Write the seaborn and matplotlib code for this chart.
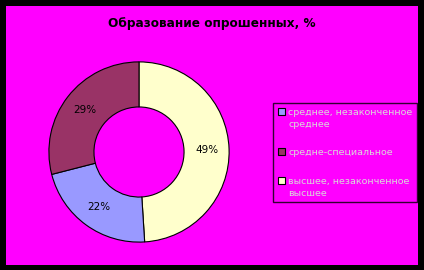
import matplotlib
matplotlib.use("Agg")
import matplotlib.pyplot as plt
from matplotlib.patches import Rectangle
from matplotlib.legend_handler import HandlerPatch
import seaborn as sns

# Survey data: education level of respondents, %
categories = ["среднее, незаконченное\nсреднее", "средне-специальное", "высшее, незаконченное\nвысшее"]
shares = [22, 29, 49]
colors = ["#9999FF", "#993366", "#FFFFCC"]
title = "Образование опрошенных, %"

sns.set_theme(style="white")
plt.rcParams["font.family"] = ["DejaVu Sans"]

W, H = 424, 270
fig = plt.figure(figsize=(W / 100, H / 100), dpi=100, facecolor="black")

# magenta chart area inside black frame
bg = fig.add_axes([6 / W, 5 / H, 412 / W, 259 / H])
bg.set_facecolor("#FF00FF")
bg.set_xticks([]); bg.set_yticks([])
for s in bg.spines.values():
    s.set_visible(False)

fig.text(212 / W, 1 - 23 / H, title, ha="center", va="center",
         fontsize=8.7, fontweight="bold", color="black")

# doughnut, drawn clockwise from 12 o'clock: high, secondary, specialised
order = [2, 0, 1]
cx, cy, r = 139, 152, 91
ax = fig.add_axes([(cx - r) / W, (H - cy - r) / H, 2 * r / W, 2 * r / H])
ax.set_facecolor("none")
wedges, texts, autotexts = ax.pie(
    [shares[i] for i in order],
    colors=[colors[i] for i in order],
    startangle=90, counterclock=False, radius=1,
    autopct=lambda p: f"{p:.0f}%", pctdistance=0.76,
    wedgeprops=dict(width=0.5, edgecolor="black", linewidth=0.8),
    textprops=dict(fontsize=7.5, color="black"),
)
ax.set_xlim(-1.01, 1.01); ax.set_ylim(-1.01, 1.01)
ax.set_aspect("equal")
ax.axis("off")

# legend: swatches sit next to the first line of each label
fs = 6.8
line_sp = 1.45


def first_line_swatch(nlines):
    def make(legend, orig_handle, xdescent, ydescent, width, height, fontsize):
        shift = (nlines - 1) / 2 * fontsize * line_sp
        return Rectangle((-xdescent, -ydescent + shift), width, height)
    return make


handles = [Rectangle((0, 0), 1, 1, facecolor=c, edgecolor="black", linewidth=0.8) for c in colors]
hmap = {h: HandlerPatch(patch_func=first_line_swatch(lab.count("\n") + 1))
        for h, lab in zip(handles, categories)}
leg = fig.legend(handles, categories, loc="upper left", handler_map=hmap,
                 bbox_to_anchor=(273 / W, 1 - 103 / H),
                 frameon=True, fancybox=False, fontsize=fs,
                 labelcolor="#d9d9d9", handlelength=0.75, handleheight=0.75,
                 handletextpad=0.35, labelspacing=2.05, borderpad=0.5,
                 borderaxespad=0)
for t in leg.get_texts():
    t.set_linespacing(line_sp)
leg.get_frame().set_facecolor("#FF00FF")
leg.get_frame().set_edgecolor("black")
leg.get_frame().set_linewidth(1.0)

fig.savefig("out.png", dpi=100, facecolor="black")
